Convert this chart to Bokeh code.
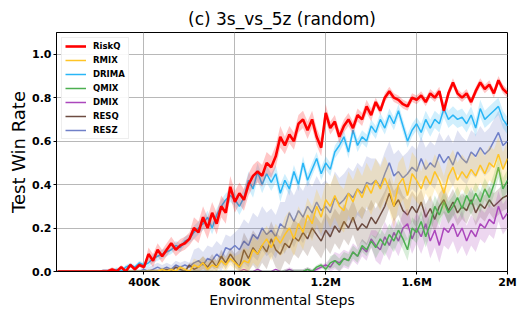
import numpy as np
from bokeh.plotting import figure
from bokeh.models import ColumnDataSource, FixedTicker, Legend, LegendItem, Range1d, Title
from bokeh.embed import file_html
from bokeh.resources import INLINE

N = 100
STEP = 20000

riskq = [0.01, 0.0, 0.02, 0.0, 0.03, 0.01, 0.03, 0.02, 0.08, 0.05, 0.1, 0.07, 0.1, 0.13, 0.1, 0.12, 0.13, 0.15, 0.2, 0.18,
         0.25, 0.2, 0.27, 0.22, 0.3, 0.27, 0.39, 0.32, 0.36, 0.33, 0.4, 0.44, 0.46, 0.44, 0.5, 0.48, 0.53, 0.62, 0.58, 0.63,
         0.6, 0.68, 0.7, 0.65, 0.7, 0.62, 0.57, 0.73, 0.66, 0.69, 0.62, 0.67, 0.7, 0.66, 0.72, 0.7, 0.76, 0.72, 0.78, 0.74,
         0.8, 0.83, 0.8, 0.79, 0.77, 0.76, 0.8, 0.79, 0.81, 0.78, 0.82, 0.8, 0.83, 0.74, 0.82, 0.87, 0.82, 0.8, 0.82, 0.78,
         0.83, 0.87, 0.84, 0.86, 0.82, 0.88, 0.84, 0.82]
drima = [0.0, 0.01, 0.0, 0.02, 0.03, 0.02, 0.04, 0.03, 0.04, 0.06, 0.07, 0.08, 0.09, 0.1, 0.12, 0.11, 0.14, 0.15, 0.18, 0.2,
         0.22, 0.25, 0.2, 0.26, 0.3, 0.33, 0.35, 0.33, 0.3, 0.34, 0.42, 0.38, 0.46, 0.4, 0.45, 0.41, 0.45, 0.36, 0.42, 0.38,
         0.46, 0.4, 0.5, 0.42, 0.47, 0.52, 0.45, 0.5, 0.47, 0.55, 0.58, 0.62, 0.55, 0.65, 0.58, 0.62, 0.6, 0.67, 0.64, 0.7,
         0.66, 0.72, 0.68, 0.74, 0.67, 0.6, 0.65, 0.68, 0.64, 0.7, 0.66, 0.7, 0.68, 0.75, 0.7, 0.72, 0.7, 0.71, 0.68, 0.72,
         0.66, 0.75, 0.7, 0.72, 0.74, 0.76, 0.7, 0.67]
resz = [0.01, 0.0, 0.01, 0.02, 0.01, 0.02, 0.01, 0.03, 0.02, 0.03, 0.02, 0.04, 0.05, 0.03, 0.06, 0.05, 0.08, 0.06, 0.11, 0.1,
        0.12, 0.1, 0.14, 0.12, 0.17, 0.15, 0.2, 0.17, 0.19, 0.16, 0.22, 0.2, 0.27, 0.23, 0.28, 0.25, 0.3, 0.27, 0.32, 0.28,
        0.3, 0.27, 0.34, 0.31, 0.33, 0.36, 0.34, 0.38, 0.36, 0.41, 0.4, 0.42, 0.39, 0.45, 0.5, 0.44, 0.46, 0.43, 0.45, 0.48,
        0.46, 0.52, 0.47, 0.5, 0.48, 0.54, 0.5, 0.53, 0.49, 0.55, 0.52, 0.5, 0.55, 0.53, 0.57, 0.54, 0.56, 0.6, 0.64, 0.58,
        0.6]
rmix = [0.01, 0.0, 0.01, 0.0, 0.02, 0.01, 0.0, 0.03, 0.02, 0.04, 0.01, 0.03, 0.02, 0.05, 0.03, 0.06, 0.04, 0.02, 0.05, 0.04,
        0.1, 0.08, 0.12, 0.15, 0.11, 0.16, 0.13, 0.17, 0.2, 0.15, 0.22, 0.18, 0.26, 0.22, 0.3, 0.25, 0.33, 0.3, 0.35, 0.3,
        0.28, 0.36, 0.32, 0.38, 0.34, 0.4, 0.36, 0.42, 0.38, 0.43, 0.38, 0.3, 0.4, 0.43, 0.35, 0.45, 0.42, 0.38, 0.44, 0.4,
        0.46, 0.42, 0.36, 0.44, 0.48, 0.42, 0.46, 0.43, 0.47, 0.44, 0.49, 0.45, 0.5, 0.48, 0.54, 0.47, 0.52]
resq = [0.01, 0.0, 0.02, 0.01, 0.0, 0.03, 0.01, 0.02, 0.04, 0.02, 0.05, 0.02, 0.07, 0.04, 0.08, 0.05, 0.02, 0.1, 0.06, 0.11,
        0.08, 0.12, 0.09, 0.15, 0.1, 0.08, 0.13, 0.11, 0.16, 0.14, 0.18, 0.15, 0.2, 0.17, 0.14, 0.19, 0.16, 0.21, 0.18, 0.23,
        0.2, 0.25, 0.19, 0.22, 0.2, 0.25, 0.22, 0.26, 0.3, 0.36, 0.3, 0.33, 0.28, 0.26, 0.3, 0.27, 0.32, 0.25, 0.29, 0.24,
        0.3, 0.33, 0.28, 0.32, 0.27, 0.3, 0.28, 0.33, 0.27, 0.31, 0.29, 0.33, 0.3, 0.32, 0.34, 0.35]
qmix = [0.01, 0.0, 0.02, 0.03, 0.01, 0.04, 0.05, 0.03, 0.06, 0.05, 0.09, 0.07, 0.12, 0.1, 0.14, 0.11, 0.15, 0.12, 0.17, 0.14,
        0.19, 0.15, 0.1, 0.2, 0.18, 0.23, 0.16, 0.22, 0.3, 0.26, 0.32, 0.27, 0.3, 0.34, 0.29, 0.35, 0.31, 0.36, 0.32, 0.38,
        0.34, 0.4, 0.48, 0.38, 0.42]
dmix = [0.01, 0.0, 0.0, 0.01, 0.0, 0.0, 0.0, 0.01, 0.0, 0.0, 0.01, 0.0, 0.0, 0.0, 0.01, 0.0, 0.01, 0.02, 0.03, 0.02,
        0.05, 0.04, 0.06, 0.05, 0.09, 0.07, 0.11, 0.09, 0.15, 0.12, 0.1, 0.16, 0.12, 0.18, 0.14, 0.2, 0.22, 0.15, 0.2, 0.16,
        0.22, 0.14, 0.19, 0.12, 0.2, 0.18, 0.22, 0.16, 0.2, 0.14, 0.19, 0.16, 0.22, 0.2, 0.24, 0.22, 0.3, 0.24, 0.27]

# band half-widths per 200K bucket
riskq_sd = [0, 0.01, 0.03, 0.05, 0.05, 0.04, 0.03, 0.02, 0.02, 0.02]
drima_sd = [0, 0.01, 0.02, 0.03, 0.04, 0.03, 0.03, 0.03, 0.04, 0.04]
resz_sd = [0, 0.01, 0.02, 0.06, 0.1, 0.12, 0.12, 0.1, 0.1, 0.1]
rmix_sd = [0, 0, 0.01, 0.03, 0.06, 0.08, 0.1, 0.1, 0.08, 0.08]
resq_sd = [0, 0, 0.01, 0.03, 0.08, 0.08, 0.08, 0.07, 0.06, 0.06]
qmix_sd = [0, 0, 0, 0, 0, 0.01, 0.03, 0.05, 0.05, 0.05]
dmix_sd = [0, 0, 0, 0, 0, 0.01, 0.04, 0.07, 0.08, 0.07]

names = ["RiskQ", "RMIX", "DRIMA", "QMIX", "DMIX", "RESQ", "RESZ"]
colors = ["#ff0000", "#ffc425", "#29b6f6", "#4caf50", "#ab47bc", "#6d4c41", "#7080c8"]
series = [riskq, rmix, drima, qmix, dmix, resq, resz]
sds = [riskq_sd, rmix_sd, drima_sd, qmix_sd, dmix_sd, resq_sd, resz_sd]
widths = [2.6, 1.5, 1.5, 1.5, 1.5, 1.5, 1.5]

x_ticks = [400000, 800000, 1200000, 1600000, 2000000]
x_labels = ["400K", "800K", "1.2M", "1.6M", "2M"]
y_ticks = [0.0, 0.2, 0.4, 0.6, 0.8, 1.0]
y_labels = ["0.0", "0.2", "0.4", "0.6", "0.8", "1.0"]

p = figure(width=523, height=310, output_backend="svg", toolbar_location=None,
           x_range=Range1d(15000, 2000000), y_range=Range1d(0, 1.1),
           min_border_left=56, min_border_right=16, min_border_bottom=38, min_border_top=32)
p.title = Title(text="(c) 3s_vs_5z (random)", align="center", text_font="DejaVu Sans",
                text_font_size="17px", text_font_style="normal", text_color="#000000",
                standoff=8)

x = (np.arange(N) + 1) * STEP
items = []
order = [6, 5, 4, 3, 1, 2, 0]
renderers = {}
for i in order:
    vals = [0.0] * (N - len(series[i])) + list(series[i])
    y = np.array(vals)
    sd = np.repeat(np.array(sds[i]), N // len(sds[i]))
    src = ColumnDataSource(dict(x=x, y=y, lo=np.clip(y - sd, 0, None), hi=y + sd))
    p.varea(x="x", y1="lo", y2="hi", source=src, fill_color=colors[i], fill_alpha=0.22)
    r = p.line(x="x", y="y", source=src, line_color=colors[i], line_width=widths[i])
    renderers[i] = r
for i in range(7):
    items.append(LegendItem(label=names[i], renderers=[renderers[i]]))

legend = Legend(items=items, location="top_left", label_text_font="DejaVu Sans",
                label_text_font_style="bold", label_text_font_size="8.5px",
                label_text_color="#000000",
                label_height=10, glyph_height=10, glyph_width=21, spacing=4,
                padding=3, margin=5, border_line_color="#dddddd", border_line_width=1,
                background_fill_alpha=0.9, label_standoff=7)
p.add_layout(legend)

for ax in [p.xaxis[0], p.yaxis[0]]:
    ax.major_label_text_font = "DejaVu Sans"
    ax.major_label_text_font_style = "bold"
    ax.major_label_text_font_size = "11px"
    ax.major_label_text_color = "#000000"
    ax.axis_label_text_font = "DejaVu Sans"
    ax.axis_label_text_font_style = "normal"
    ax.axis_label_text_color = "#000000"
    ax.minor_tick_line_color = None
    ax.major_tick_in = 0
    ax.major_tick_out = 3
    ax.axis_line_color = "#000000"
    ax.major_tick_line_color = "#000000"

p.xaxis.ticker = FixedTicker(ticks=x_ticks)
p.xaxis.major_label_overrides = {t: l for t, l in zip(x_ticks, x_labels)}
p.xaxis.major_label_standoff = 1
p.yaxis.ticker = FixedTicker(ticks=y_ticks)
p.yaxis.major_label_overrides = {t: l for t, l in zip(y_ticks, y_labels)}
p.yaxis.major_label_standoff = 2
p.xaxis.axis_label = "Environmental Steps"
p.xaxis.axis_label_text_font_size = "14px"
p.xaxis.axis_label_standoff = 0
p.yaxis.axis_label = "Test Win Rate"
p.yaxis.axis_label_text_font_size = "18px"
p.yaxis.axis_label_standoff = 0

p.xgrid.ticker = FixedTicker(ticks=x_ticks)
p.ygrid.ticker = FixedTicker(ticks=y_ticks)
p.grid.grid_line_color = "#b8b8b8"
p.grid.grid_line_width = 1
p.outline_line_color = "#000000"
p.outline_line_width = 1
p.outline_line_alpha = 1

open("out.html", "w").write(file_html(p, INLINE))
